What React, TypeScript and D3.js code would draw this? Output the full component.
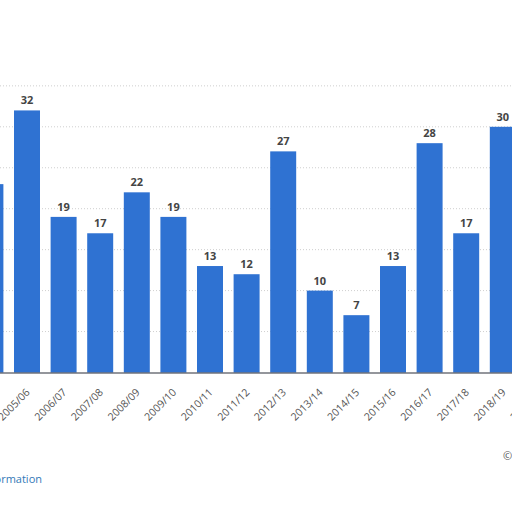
import React, { useEffect, useRef } from 'react';
import * as d3 from 'd3';

const seasons = [
  '2004/05', '2005/06', '2006/07', '2007/08', '2008/09', '2009/10', '2010/11',
  '2011/12', '2012/13', '2013/14', '2014/15', '2015/16', '2016/17', '2017/18',
  '2018/19', '2019/20',
];
// last season sits outside the visible crop, its bar is not shown
const counts: (number | null)[] = [23, 32, 19, 17, 22, 19, 13, 12, 27, 10, 7, 13, 28, 17, 30, null];
const gridTicks = [5, 10, 15, 20, 25, 30, 35];

const App: React.FC = () => {
  const svgRef = useRef<SVGSVGElement>(null);

  useEffect(() => {
    if (!svgRef.current) return;
    const width = 512;
    const height = 512;
    const baseY = 372.5;

    d3.select(svgRef.current).selectAll('*').remove();
    const svg = d3.select(svgRef.current)
      .attr('width', width)
      .attr('height', height);

    svg.append('rect').attr('width', width).attr('height', height).attr('fill', '#fff');

    const x = d3.scaleBand()
      .domain(seasons)
      .range([-27.9, 557.7])
      .paddingInner(0.29)
      .paddingOuter(0.145);

    const y = d3.scaleLinear().domain([0, 35]).range([baseY, baseY - 35 * 8.19]);

    // grid lines
    svg.append('g')
      .selectAll('line')
      .data(gridTicks)
      .enter()
      .append('line')
      .attr('x1', 0)
      .attr('x2', width)
      .attr('y1', d => y(d))
      .attr('y2', d => y(d))
      .attr('stroke', '#cfcfcf')
      .attr('stroke-width', 1)
      .attr('stroke-dasharray', '1,2');

    const data = seasons.map((s, i) => ({ season: s, value: counts[i] }))
      .filter(d => d.value !== null) as { season: string; value: number }[];

    // bars
    svg.append('g')
      .selectAll('rect')
      .data(data)
      .enter()
      .append('rect')
      .attr('x', d => x(d.season) || 0)
      .attr('y', d => y(d.value))
      .attr('width', x.bandwidth())
      .attr('height', d => baseY - y(d.value))
      .attr('fill', '#2f72d2');

    // value labels
    svg.append('g')
      .selectAll('text')
      .data(data)
      .enter()
      .append('text')
      .attr('x', d => (x(d.season) || 0) + x.bandwidth() / 2)
      .attr('y', d => y(d.value) - 6)
      .attr('text-anchor', 'middle')
      .style('font-family', '"Open Sans", sans-serif')
      .style('font-size', '11px')
      .style('font-weight', 'bold')
      .style('fill', '#444')
      .text(d => d.value);

    // baseline
    svg.append('line')
      .attr('x1', 0)
      .attr('x2', width)
      .attr('y1', baseY + 0.5)
      .attr('y2', baseY + 0.5)
      .attr('stroke', '#2b2f3a')
      .attr('stroke-width', 1.2);

    // x labels
    svg.append('g')
      .selectAll('text')
      .data(seasons)
      .enter()
      .append('text')
      .attr('transform', d => `translate(${(x(d) || 0) + x.bandwidth() / 2 + 1},${baseY + 18}) rotate(-45)`)
      .attr('text-anchor', 'end')
      .attr('dy', '0.35em')
      .style('font-family', '"Open Sans", sans-serif')
      .style('font-size', '10.5px')
      .style('fill', '#555')
      .text(d => d);

    svg.append('text')
      .attr('x', 42)
      .attr('y', 483)
      .attr('text-anchor', 'end')
      .style('font-family', '"Open Sans", sans-serif')
      .style('font-size', '11px')
      .style('fill', '#3279b7')
      .text('Additional Information');

    svg.append('text')
      .attr('x', 503)
      .attr('y', 460)
      .style('font-family', '"Open Sans", sans-serif')
      .style('font-size', '11px')
      .style('fill', '#555')
      .text('© Statista 2020');
  }, []);

  return (
    <div style={{ position: 'absolute', left: 0, top: 0 }}>
      <svg ref={svgRef} style={{ display: 'block' }}></svg>
    </div>
  );
};

export default App;
